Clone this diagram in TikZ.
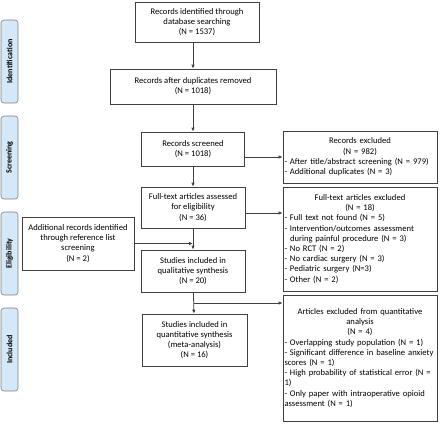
\documentclass[tikz,border=0pt]{standalone}
\usepackage{fontspec}
\setmainfont{Carlito}
\usetikzlibrary{positioning}
\usetikzlibrary{arrows.meta,calc}
\definecolor{phasefill}{HTML}{D3E8F8}
\definecolor{linegray}{HTML}{404040}
\tikzset{
  every node/.style={font=\fontsize{8.6}{10.2}\selectfont},
  mainbox/.style={draw=linegray, line width=0.7pt, fill=white, align=center, inner sep=2pt},
  sidebox/.style={draw=linegray, line width=0.7pt, fill=white, align=left, inner sep=1.5pt,
    text width=151pt, minimum width=154pt},
  phase/.style={draw=gray, line width=0.6pt, fill=phasefill, rounded corners=3pt,
    minimum width=83pt, minimum height=17pt, rotate=90, inner sep=0pt,
    font=\fontsize{8}{9}\selectfont\bfseries},
  arr/.style={draw=linegray, line width=0.8pt, -{Latex[length=4pt,width=3.5pt]}}
}

\begin{document}
\begin{tikzpicture}[x=1pt,y=-1pt]
\useasboundingbox (0,0) rectangle (440,424);
% phases
\node[phase] (ident) at (9.5,61.5) {Identification};
\node[phase] (screen) at (9.5,157.5) {Screening};
\node[phase] (elig) at (9.5,253.5) {Eligibility};
\node[phase] (incl) at (9.5,349.5) {Included};
% main column
\node[mainbox, minimum width=124pt, minimum height=40pt] (found) at (197,22)
  {Records identified through\\database searching\\(N = 1537)};
\node[mainbox, minimum width=166pt, minimum height=35pt] (dedup) at (193,86.5)
  {Records after duplicates removed\\(N = 1018)};
\node[mainbox, minimum width=103pt, minimum height=34pt] (screened) at (193,149)
  {Records screened\\(N = 1018)};
\node[mainbox, minimum width=104pt, minimum height=41pt] (fulltext) at (193,207.5)
  {Full-text articles assessed\\for eligibility\\(N = 36)};
\node[mainbox, minimum width=104pt, minimum height=42pt] (quali) at (193,271)
  {Studies included in\\qualitative synthesis\\(N = 20)};
\node[mainbox, minimum width=105pt, minimum height=52pt] (quanti) at (194.5,340)
  {Studies included in\\quantitative synthesis\\(meta-analysis)\\(N = 16)};
\node[mainbox, minimum width=112pt, minimum height=53pt] (extra) at (78,243.5)
  {Additional records identified\\through reference list\\screening\\(N = 2)};
% exclusions
\node[sidebox, minimum height=52pt] (excl) at (360,157)
  {\centering Records excluded\\(N = 982)\par\raggedright
   - After title/abstract screening (N = 979)\\
   - Additional duplicates (N = 3)};
\node[sidebox, minimum height=104pt] (ftexcl) at (360,239)
  {\centering Full-text articles excluded\\(N = 18)\par\raggedright
   - Full text not found (N = 5)\\
   - Intervention/outcomes assessment\\
   \phantom{- }during painful procedure (N = 3)\\
   - No RCT (N = 2)\\
   - No cardiac surgery (N = 3)\\
   - Pediatric surgery (N=3)\\
   - Other (N = 2)};
\node[sidebox, minimum height=126pt] (qexcl) at (360,358)
  {\centering Articles excluded from quantitative\\analysis\\(N = 4)\par\raggedright
   - Overlapping study population (N = 1)\\
   - Significant difference in baseline anxiety\\
   scores (N = 1)\\
   - High probability of statistical error (N =\\
   1)\\
   - Only paper with intraoperative opioid\\
   assessment (N = 1)\par\vspace{9pt}};
% connectors
\draw[arr] (found.south -| dedup.north) -- (dedup.north);
\draw[arr] (dedup) -- (screened);
\draw[arr] (screened) -- (fulltext);
\draw[arr] (fulltext) -- (quali);
\draw[arr] (quali) -- (quanti);
\draw[arr] (screened.east |- excl.west) -- (excl.west);
\draw[arr] ([yshift=-5.5pt]fulltext.east) -- ([yshift=-5.5pt]fulltext.east -| ftexcl.west);
\draw[arr] (extra.east) -- (extra.east -| fulltext.south);
\coordinate (split) at ($(quali.south)!0.5!(quanti.north)$);
\draw[arr] (split) -- (split -| qexcl.west);
\end{tikzpicture}
\end{document}
